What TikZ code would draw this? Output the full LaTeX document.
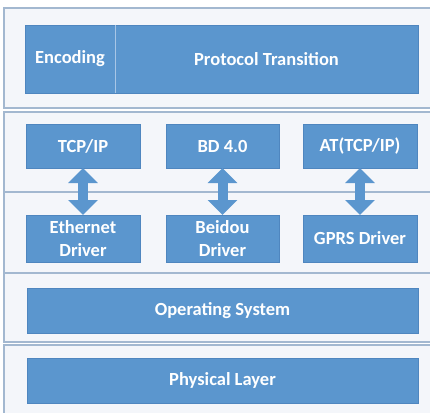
\documentclass[tikz,border=0pt]{standalone}
\usepackage{fontspec}
\setmainfont{Carlito}
\usetikzlibrary{arrows.meta}
\definecolor{bandfill}{HTML}{F4F6FA}
\definecolor{bandline}{HTML}{A3B8D0}
\definecolor{boxblue}{HTML}{5B96CE}
\definecolor{boxedge}{HTML}{4F86BF}
\definecolor{divline}{HTML}{A8C6E6}
\tikzset{
  band/.style={fill=bandfill, draw=bandline, line width=1.6pt},
  layerbox/.style={rectangle, fill=boxblue, draw=boxedge, line width=0.5pt,
    inner sep=0pt, outer sep=0pt, text=white, align=center,
    font=\fontsize{18.5}{23.5}\selectfont\bfseries},
  link/.style={draw=boxblue, line width=10pt,
    {Triangle[width=29pt,length=15pt]}-{Triangle[width=29pt,length=15pt]}}
}
\begin{document}
\begin{tikzpicture}[x=1pt,y=-1pt]
\useasboundingbox (0,0) rectangle (430,412);
\fill[white] (0,0) rectangle (430,412);
\begin{scope}
\clip (0,0) rectangle (430,412);
% horizontal layer bands
\draw[band] (4,8) rectangle (445,108);
\draw[band] (4,112) rectangle (445,192);
\draw[band] (4,192) rectangle (445,273);
\draw[band] (4,273) rectangle (445,342);
\draw[band] (4,345) rectangle (445,425);
\end{scope}

% application layer
\node[layerbox, minimum width=90pt, minimum height=68pt] (enc) at (70,59) {Encoding};
\node[layerbox, minimum width=303pt, minimum height=68pt] (proto) at (266.5,59) {Protocol Transition};
\draw[divline, line width=1pt] (enc.north east) -- (enc.south east);

% protocol stacks
\node[layerbox, minimum width=114pt, minimum height=44pt] (tcp) at (83,146) {TCP/IP};
\node[layerbox, minimum width=113pt, minimum height=44pt] (bd) at (222.5,146) {BD 4.0};
\node[layerbox, minimum width=114pt, minimum height=44pt] (at) at (360,146) {AT(TCP/IP)};

% drivers
\node[layerbox, minimum width=114pt, minimum height=47pt] (eth) at (83,238.5) {Ethernet\\Driver};
\node[layerbox, minimum width=113pt, minimum height=47pt] (bdd) at (222.5,238.5) {Beidou\\Driver};
\node[layerbox, minimum width=114pt, minimum height=47pt] (gprs) at (360,238.5) {GPRS Driver};

% links between stacks and drivers
\draw[link] (tcp.south) -- (eth.north);
\draw[link] (bd.south) -- (bdd.north);
\draw[link] (at.south) -- (gprs.north);

% system layers
\node[layerbox, minimum width=391pt, minimum height=45pt] (os) at (222.5,310.5) {Operating System};
\node[layerbox, minimum width=391pt, minimum height=45pt] (phy) at (222.5,380.5) {Physical Layer};
\end{tikzpicture}
\end{document}
